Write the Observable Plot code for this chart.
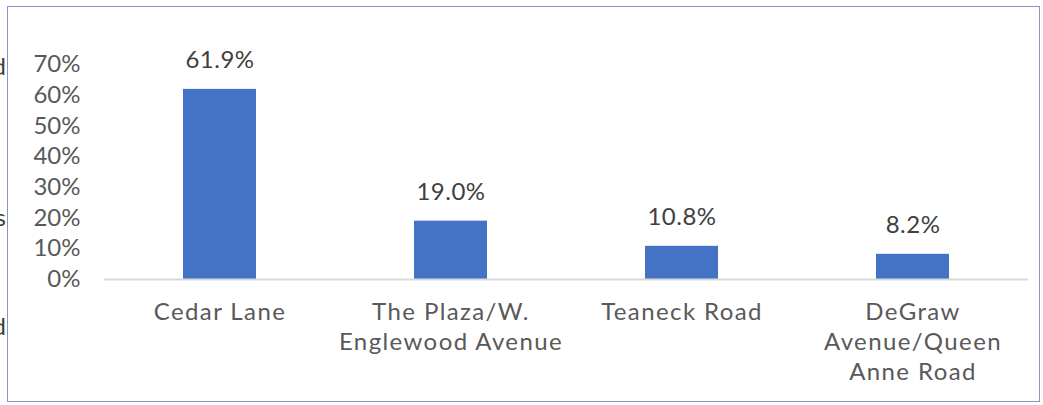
<!DOCTYPE html>
<html>
<head>
<meta charset="utf-8">
<script src="https://cdn.jsdelivr.net/npm/d3@7"></script>
<script src="https://cdn.jsdelivr.net/npm/@observablehq/plot@0.6"></script>
<style>
  html, body { margin: 0; padding: 0; background: #fff; width: 1043px; height: 405px; overflow: hidden; }
  #wrap { position: relative; width: 1043px; height: 405px; font-family: Lato, "Noto Sans", sans-serif; }
  #frame { position: absolute; left: 7px; top: 6px; width: 1033px; height: 396px; border: 1.5px solid #8f91c9; box-sizing: border-box; }
  #chart { position: absolute; left: 0; top: 0; }
  .frag { position: absolute; left: -100px; width: 106px; text-align: right; font-size: 24px; color: #404040; line-height: 1; }
  .xlab text { letter-spacing: 1.4px; }
  .vlab text { letter-spacing: 0.5px; }
</style>
</head>
<body>
<div id="wrap">
  <div class="frag" style="top:54px">d</div>
  <div class="frag" style="top:205px">s</div>
  <div class="frag" style="top:314px">d</div>
  <div id="frame"></div>
  <div id="chart"></div>
</div>
<script>
const categories = ["Cedar Lane", "The Plaza/W. Englewood Avenue", "Teaneck Road", "DeGraw Avenue/Queen Anne Road"];
const tickLabels = ["Cedar Lane", "The Plaza/W.\nEnglewood Avenue", "Teaneck Road", "DeGraw\nAvenue/Queen\nAnne Road"];
const values = [61.9, 19.0, 10.8, 8.2];
const yTicks = [0, 10, 20, 30, 40, 50, 60, 70];

const data = categories.map((c, i) => ({category: c, value: values[i], label: tickLabels[i]}));

const chart = Plot.plot({
  width: 1043,
  height: 405,
  marginLeft: 104,
  marginRight: 15,
  marginTop: 64,
  marginBottom: 126,
  style: {fontFamily: "Lato, 'Noto Sans', sans-serif", fontSize: "24px", background: "transparent", color: "#595959"},
  x: {domain: categories, padding: 0, label: null},
  y: {domain: [0, 70], label: null},
  marks: [
    Plot.axisY({ticks: yTicks, tickSize: 0, tickPadding: 24, tickFormat: d => d + "%", fontSize: 24, fill: "#595959", label: null}),
    Plot.axisX({tickSize: 0, tickPadding: 19, tickFormat: d => tickLabels[categories.indexOf(d)], fontSize: 24, lineHeight: 1.25, fill: "#595959", label: null, className: "xlab"}),
    Plot.barY(data, {x: "category", y: "value", fill: "#4472C4", insetLeft: 79, insetRight: 79}),
    Plot.ruleY([0], {stroke: "#d9d9d9", strokeWidth: 2}),
    Plot.text(data, {x: "category", y: "value", text: d => d.value.toFixed(1) + "%", lineAnchor: "bottom", dy: -21, fontSize: 24, fill: "#404040", className: "vlab"})
  ]
});
document.getElementById("chart").appendChild(chart);
</script>
</body>
</html>
